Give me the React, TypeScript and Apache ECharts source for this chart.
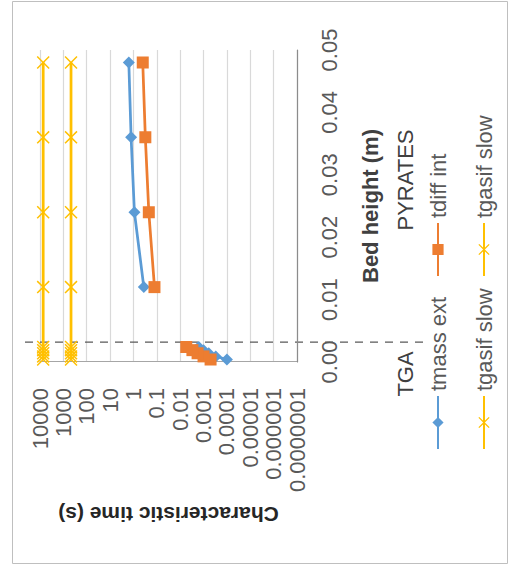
import React, { useEffect, useRef } from "react";
import * as echarts from "echarts";

// ---- data (original, un-rotated orientation: x = bed height, y = time) ----
const heightsTGA = [0.0004, 0.0009, 0.0014, 0.0019, 0.0024];
const heightsPYR = [0.012, 0.024, 0.036, 0.048];
const tmassTGA = [0.0001, 0.0003, 0.0006, 0.001, 0.0016];
const tmassPYR = [0.36, 0.91, 1.26, 1.58];
const tdiffTGA = [0.0005, 0.001, 0.0018, 0.003, 0.0055];
const tdiffPYR = [0.126, 0.22, 0.31, 0.4];
const tgasifA_TGA = [7300, 7300, 7300, 7300, 7300];
const tgasifA_PYR = [7300, 7300, 7300, 7300];
const tgasifB_TGA = [470, 470, 470, 470, 470];
const tgasifB_PYR = [470, 470, 470, 470];
const heightTicks = [0, 0.05];
const timeRange = [0.0000001, 10000];
const separatorHeight = 0.0032;
const regionLabels = ["TGA", "PYRATES"];

const W = 563;
const H = 496;
const FONT = "'Liberation Sans', Arial, sans-serif";
const BLUE = "#5B9BD5";
const ORANGE = "#ED7D31";
const YELLOW = "#FFC000";
const XPATH =
  "path://M0,0.8L0.8,0L5,4.2L9.2,0L10,0.8L5.8,5L10,9.2L9.2,10L5,5.8L0.8,10L0,9.2L4.2,5Z";

function pairs(hs: number[], vs: number[]) {
  return hs.map((h, i) => [h, vs[i]]);
}
function joined(a: any[], b: any[], gap: boolean) {
  return gap ? [...a, ["-", "-"], ...b] : [...a, ...b];
}

export default function App() {
  const ref = useRef<HTMLDivElement>(null);
  useEffect(() => {
    if (!ref.current) return;
    const chart = echarts.init(ref.current, undefined, { renderer: "svg" });
    const legendBase = {
      orient: "horizontal",
      itemWidth: 53,
      itemHeight: 14,
      itemGap: 0,
      padding: 0,
      textStyle: { fontSize: 22, color: "#595959", fontFamily: FONT },
    };
    chart.setOption({
      animation: false,
      backgroundColor: "#fff",
      grid: { left: 202, right: 49, top: 28, bottom: 211, containLabel: false },
      xAxis: {
        type: "value",
        min: heightTicks[0],
        max: heightTicks[1],
        interval: 0.01,
        name: "Bed height (m)",
        nameLocation: "middle",
        nameGap: 62,
        nameTextStyle: { fontSize: 22, fontWeight: "bold", color: "#404040", fontFamily: FONT },
        axisLine: { show: true, lineStyle: { color: "#8C8C8C", width: 1.2 } },
        axisTick: { show: false },
        splitLine: { show: false },
        axisLabel: {
          fontSize: 22,
          color: "#595959",
          fontFamily: FONT,
          margin: 21,
          formatter: (v: number) => v.toFixed(2),
        },
      },
      yAxis: {
        type: "log",
        logBase: 10,
        min: timeRange[0],
        max: timeRange[1],
        interval: 1,
        name: "Characteristic time (s)",
        nameLocation: "middle",
        nameGap: 142,
        nameTextStyle: { fontSize: 21, fontWeight: "bold", color: "#262626", fontFamily: FONT },
        axisLine: { show: true, lineStyle: { color: "#A6A6A6", width: 1.2 } },
        axisTick: { show: false },
        splitLine: { show: true, lineStyle: { color: "#D9D9D9", width: 1.2 } },
        axisLabel: {
          fontSize: 22,
          color: "#595959",
          fontFamily: FONT,
          margin: 26,
          formatter: (v: number) => {
            const e = Math.round(Math.log10(v));
            return e >= 0 ? String(Math.round(Math.pow(10, e))) : Math.pow(10, e).toFixed(-e);
          },
        },
      },
      legend: [
        { ...legendBase, data: ["tmass ext"], left: 114, top: 415 },
        { ...legendBase, data: ["tdiff int"], left: 287, top: 415 },
        { ...legendBase, data: ["tgasif slow"], left: 114, top: 461 },
        {
          ...legendBase,
          data: ["tgasif slow 2"],
          left: 287,
          top: 461,
          formatter: () => "tgasif slow",
        },
      ],
      series: [
        {
          name: "tgasif slow",
          type: "line",
          data: joined(pairs(heightsTGA, tgasifA_TGA), pairs(heightsPYR, tgasifA_PYR), false),
          symbol: XPATH,
          symbolSize: 13,
          lineStyle: { color: YELLOW, width: 2.75 },
          itemStyle: { color: YELLOW },
        },
        {
          name: "tgasif slow 2",
          type: "line",
          data: joined(pairs(heightsTGA, tgasifB_TGA), pairs(heightsPYR, tgasifB_PYR), false),
          symbol: XPATH,
          symbolSize: 13,
          lineStyle: { color: YELLOW, width: 2.75 },
          itemStyle: { color: YELLOW },
        },
        {
          name: "tmass ext",
          type: "line",
          data: joined(pairs(heightsTGA, tmassTGA), pairs(heightsPYR, tmassPYR), true),
          connectNulls: false,
          symbol: "diamond",
          symbolSize: 12,
          lineStyle: { color: BLUE, width: 2.75 },
          itemStyle: { color: BLUE },
        },
        {
          name: "tdiff int",
          type: "line",
          data: joined(pairs(heightsTGA, tdiffTGA), pairs(heightsPYR, tdiffPYR), true),
          connectNulls: false,
          symbol: "rect",
          symbolSize: 12,
          lineStyle: { color: ORANGE, width: 2.75 },
          itemStyle: { color: ORANGE },
        },
      ],
    });
    const sepX = chart.convertToPixel({ xAxisIndex: 0 }, separatorHeight) as number;
    chart.setOption({
      graphic: [
        {
          type: "rect",
          shape: { x: 0.5, y: 0.5, width: W - 1, height: H - 1 },
          style: { fill: "none", stroke: "#BFBFBF", lineWidth: 1 },
          silent: true,
        },
        {
          type: "line",
          shape: { x1: sepX, y1: 13, x2: sepX, y2: 413 },
          style: { stroke: "#595959", lineWidth: 1.3, lineDash: [8, 7] },
          silent: true,
        },
        {
          type: "text",
          x: 190,
          y: 393,
          style: {
            text: regionLabels[0],
            fontSize: 22,
            fontFamily: FONT,
            fill: "#404040",
            align: "center",
            verticalAlign: "middle",
          },
        },
        {
          type: "text",
          x: 384,
          y: 393,
          style: {
            text: regionLabels[1],
            fontSize: 22,
            fontFamily: FONT,
            fill: "#404040",
            align: "center",
            verticalAlign: "middle",
          },
        },
      ],
    });
    return () => chart.dispose();
  }, []);
  return (
    <div
      style={{
        position: "fixed",
        left: 0,
        top: 0,
        width: 510,
        height: 571,
        background: "#fff",
        overflow: "hidden",
      }}
    >
      <div
        ref={ref}
        style={{
          position: "absolute",
          left: 12,
          top: 564,
          width: W,
          height: H,
          transformOrigin: "0 0",
          transform: "rotate(-90deg)",
        }}
      />
    </div>
  );
}
